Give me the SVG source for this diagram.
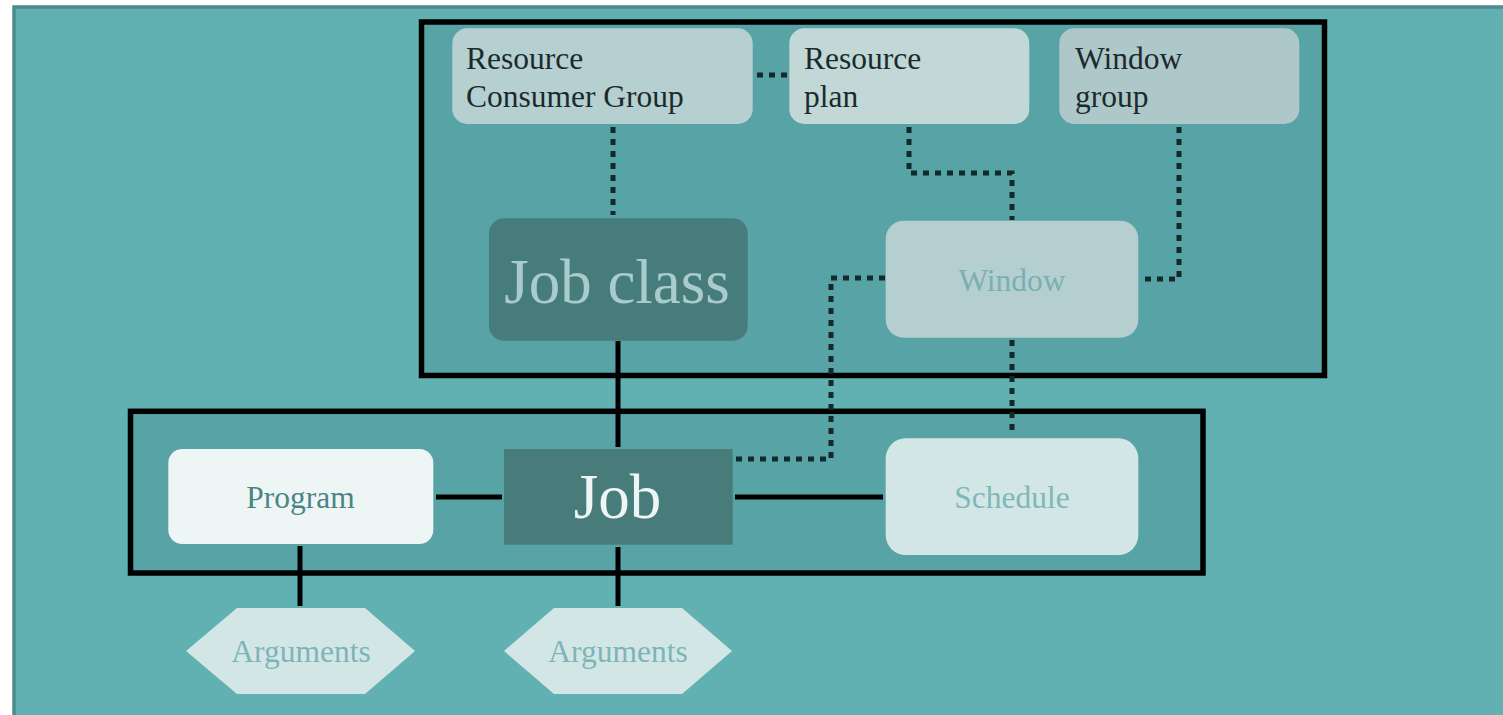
<svg xmlns="http://www.w3.org/2000/svg" width="1503" height="715" viewBox="0 0 1503 715">
<style>
text{font-family:"Liberation Serif","Times New Roman",serif;font-size:31.5px}
.dark{fill:#1b2b2b}
.mid{text-anchor:middle}
.box{stroke:#000;stroke-width:5.5}
.solid{stroke:#000;stroke-width:5;fill:none}
.dot{stroke:#15292a;stroke-width:5;fill:none;stroke-dasharray:6 6}
</style>
<rect x="0" y="0" width="1503" height="715" fill="#ffffff"/>
<rect id="background" x="14" y="7" width="1500" height="720" fill="#62b1b2" stroke="#4c8b8b" stroke-width="3.5"/>
<g id="container-top"><rect x="421.5" y="22" width="903" height="353.5" fill="#57a3a5" class="box"/></g>
<g id="container-bottom"><rect x="130.5" y="411.3" width="1072.5" height="161.7" fill="#57a3a5" class="box"/></g>
<g id="connectors">
<path class="solid" d="M618,341 V447"/>
<path class="solid" d="M436,497 H502"/>
<path class="solid" d="M735,497 H883"/>
<path class="solid" d="M300,546 V606"/>
<path class="solid" d="M618,547 V606"/>
<path class="dot" d="M757,75 H789"/>
<path class="dot" d="M613,127 V215"/>
<path class="dot" d="M909,127 V173 H1012 V220"/>
<path class="dot" d="M1179,127 V279 H1140"/>
<path class="dot" d="M885,278 H831 V459 H735"/>
<path class="dot" d="M1012,340 V430"/>
</g>
<g id="node-rcg"><rect x="452.3" y="28.3" width="300.4" height="95.7" rx="15" fill="#b6cfd0"/><text class="dark" x="466" y="69.3">Resource</text><text class="dark" x="466" y="106.7">Consumer Group</text></g>
<g id="node-rp"><rect x="789.3" y="28.3" width="240" height="95.7" rx="15" fill="#c1d8d6"/><text class="dark" x="804" y="69.3">Resource</text><text class="dark" x="804" y="106.7">plan</text></g>
<g id="node-wg"><rect x="1059.3" y="28.3" width="240" height="95.7" rx="15" fill="#aec8c9"/><text class="dark" x="1075" y="69.3">Window</text><text class="dark" x="1075" y="106.7">group</text></g>
<g id="node-jobclass"><rect x="489" y="218.3" width="258.7" height="122.4" rx="15" fill="#467d7c"/><text class="mid" x="617" y="302.7" fill="#a9cbcb" style="font-size:63px">Job class</text></g>
<g id="node-window"><rect x="885.7" y="220.7" width="252.6" height="117" rx="18" fill="#b5cfd0"/><text class="mid" x="1012" y="291" fill="#78b0b2">Window</text></g>
<g id="node-program"><rect x="168.3" y="449" width="265" height="95" rx="14" fill="#eef5f5"/><text class="mid" x="300.5" y="508.3" fill="#4a8585">Program</text></g>
<g id="node-job"><rect x="504" y="449" width="228.7" height="95.7" fill="#477c7b"/><text class="mid" x="617.5" y="518.3" fill="#eef5f5" style="font-size:63px">Job</text></g>
<g id="node-schedule"><rect x="885.7" y="438.3" width="252.6" height="116.7" rx="20" fill="#d3e6e6"/><text class="mid" x="1012" y="508.3" fill="#80b7b8">Schedule</text></g>
<g id="node-args1"><polygon points="186,651 237,608 365,608 415,651 365,694 237,694" fill="#d3e6e6"/><text class="mid" x="301" y="661.7" fill="#7db5b6">Arguments</text></g>
<g id="node-args2"><polygon points="504,651 554,608 682,608 732,651 682,694 554,694" fill="#d3e6e6"/><text class="mid" x="618" y="661.7" fill="#7db5b6">Arguments</text></g>
</svg>
